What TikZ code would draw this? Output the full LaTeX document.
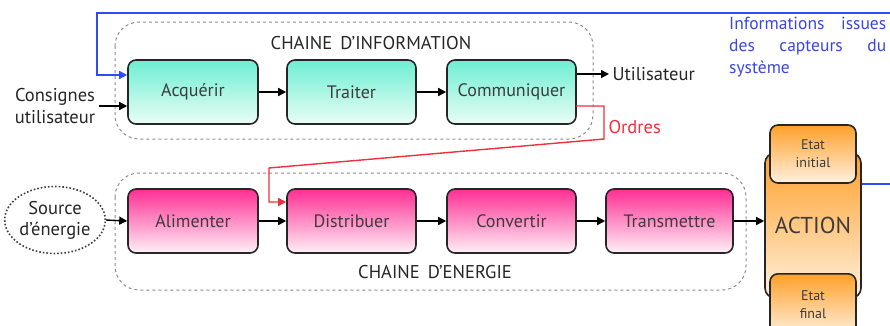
\documentclass[tikz,border=0pt]{standalone}
\usepackage{fontspec}
\setmainfont{PT Sans}
\usetikzlibrary{arrows.meta,shapes.geometric}
\definecolor{infotop}{HTML}{6CEFD2}
\definecolor{infobot}{HTML}{EAFDF7}
\definecolor{entop}{HTML}{FF2E93}
\definecolor{enbot}{HTML}{FFF0F8}
\definecolor{acttop}{HTML}{FFA02A}
\definecolor{actbot}{HTML}{FFF1DF}
\definecolor{linkblue}{HTML}{2F4BF2}
\definecolor{textblue}{HTML}{3A46E0}
\definecolor{ordred}{HTML}{F0303E}
\definecolor{boxtext}{HTML}{3C3C3C}
\begin{document}
\begin{tikzpicture}[x=1pt,y=-1pt,
  arr/.style={line width=1.4pt,-{Triangle[length=8pt,width=8pt]}},
  basebox/.style={draw=black!85,line width=1.6pt,rounded corners=8pt,minimum height=64pt,
    text=boxtext,font=\fontsize{18}{20}\selectfont},
  infobox/.style={basebox,top color=infotop,bottom color=infobot},
  enbox/.style={basebox,top color=entop,bottom color=enbot},
  chain/.style={draw=black!45,dashed,line width=1pt,rounded corners=24pt},
  lbl/.style={font=\fontsize{18.5}{22}\selectfont,text=black!85},
  statebox/.style={draw=black!85,line width=1.6pt,rounded corners=8pt,top color=acttop,bottom color=actbot,
    minimum width=86pt,text=boxtext,font=\fontsize{14}{18}\selectfont,align=center}]
\useasboundingbox (0,0) rectangle (890,325);
\clip (0,0) rectangle (890,325);

% chain frames
\draw[chain] (115,22) rectangle (593,139);
\draw[chain] (115,173) rectangle (746,290);
\node[lbl] (tinfo) at (371,43) {CHAINE\, D'INFORMATION};
\node[lbl] (tener) at (435,272) {CHAINE\, D'ENERGIE};

% information chain
\node[infobox,minimum width=130pt] (acq) at (193,92) {Acquérir};
\node[infobox,minimum width=129pt] (trt) at (351.5,92) {Traiter};
\node[infobox,minimum width=129pt] (com) at (511.5,92) {Communiquer};

% energy chain
\node[enbox,minimum width=130pt] (ali) at (193,221) {Alimenter};
\node[enbox,minimum width=129pt] (dis) at (351.5,221) {Distribuer};
\node[enbox,minimum width=129pt] (cvt) at (511.5,221) {Convertir};
\node[enbox,minimum width=127pt] (tsm) at (669.5,221) {Transmettre};

% action
\node[draw=black!85,line width=1.6pt,rounded corners=10pt,top color=acttop,bottom color=actbot,
  minimum width=96pt,minimum height=145pt,text=boxtext,font=\fontsize{23}{26}\selectfont] (act) at (813,225.5) {ACTION};
\node[statebox,minimum height=58pt] (ini) at (813,154) {Etat\\initial};
\node[statebox,minimum height=62pt,anchor=north] (fin) at (813,273) {\\[-9pt]Etat\\final};

% inputs
\node[lbl,align=center] (cons) at (55,106) {Consignes\\utilisateur};
\node[draw=black!75,dotted,line width=1.6pt,ellipse,minimum width=94pt,minimum height=67pt,
  inner sep=0pt,lbl,align=center,font=\fontsize{18.5}{21}\selectfont] (src) at (55,220) {Source\\d'énergie};

% flow arrows
\draw[arr] (cons.east) -- (cons.east -| acq.west);
\draw[arr] (acq) -- (trt);
\draw[arr] (trt) -- (com);
\draw[arr] (src.east) -- (ali.west);
\draw[arr] (ali) -- (dis);
\draw[arr] (dis) -- (cvt);
\draw[arr] (cvt) -- (tsm);
\draw[arr] (tsm.east) -- (tsm.east -| act.west);

% utilisateur
\node[lbl,anchor=west] (util) at (609,74) {Utilisateur};
\draw[arr] (util.west -| com.east) -- (util.west);

% ordres
\coordinate (o1) at (576,106);
\coordinate (o2) at (604,106);
\coordinate (o3) at (604,139);
\coordinate (o4) at (269,168);
\coordinate (o5) at (269,202);
\draw[ordred,line width=1.4pt,-{Triangle[length=8pt,width=8pt]}] (o1) -- (o2) -- (o3) -- (o4) -- (o5) -- (o5 -| dis.west);
\node[lbl,text=ordred,anchor=west] (ord) at (605,127) {Ordres};

% feedback
\coordinate (f1) at (890,13);
\coordinate (f2) at (97,13);
\coordinate (f3) at (97,75);
\draw[linkblue,line width=1.4pt,-{Triangle[length=8pt,width=8pt]}] (f1) -- (f2) -- (f3) -- (f3 -| acq.west);
\coordinate (f4) at (890,184);
\draw[linkblue,line width=1.4pt] (f4 -| act.east) -- (f4);
\node[anchor=north west,text width=157pt,align=left,text=textblue,inner sep=0pt,
  font=\fontsize{17.5}{22}\selectfont] (infos) at (729,17)
  {\leavevmode\hbox to 157pt{Informations\hfill issues}\\\leavevmode\hbox to 157pt{des\hfill capteurs\hfill du}\\système};
\end{tikzpicture}
\end{document}
